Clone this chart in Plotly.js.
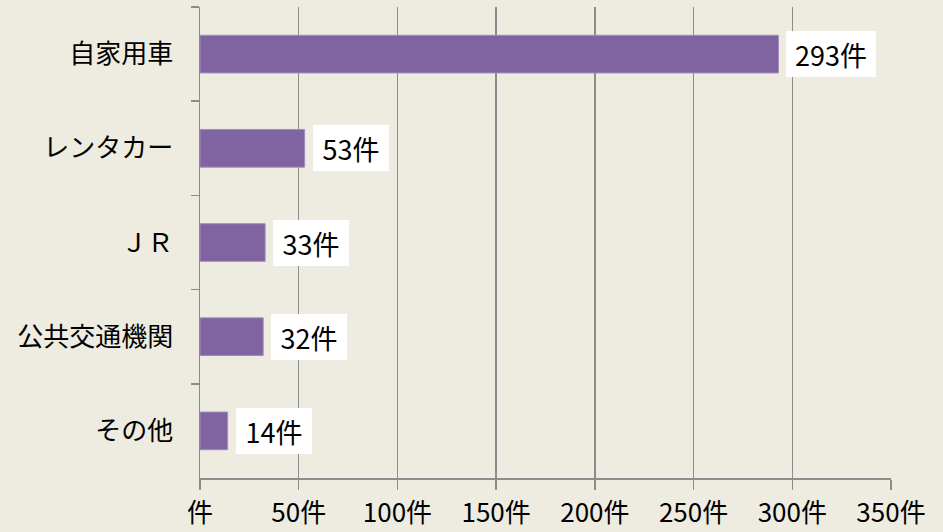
<!DOCTYPE html>
<html>
<head>
<meta charset="utf-8">
<script src="https://cdn.plot.ly/plotly-3.0.1.min.js"></script>
<style>html,body{margin:0;padding:0;background:#EEECE1;}</style>
</head>
<body>
<div id="chart" style="width:943px;height:532px;"></div>
<script>
const categories = ["自家用車", "レンタカー", "ＪＲ", "公共交通機関", "その他"];
const values = [293, 53, 33, 32, 14];
const labelSuffix = "件";
const tickValues = [0, 50, 100, 150, 200, 250, 300, 350];
const tickLabels = ["件", "50件", "100件", "150件", "200件", "250件", "300件", "350件"];

const font = "'Noto Sans CJK JP', 'Noto Sans', sans-serif";

const trace = {
  type: "bar",
  orientation: "h",
  y: categories,
  x: values,
  marker: {color: "#8064A2", line: {color: "#A08CBE", width: 1}},
  hoverinfo: "none"
};

const annotations = categories.map((c, i) => {
  const txt = values[i] + labelSuffix;
  const nDigits = String(values[i]).length;
  return {
    x: values[i], y: c, xref: "x", yref: "y",
    text: txt,
    showarrow: false,
    xanchor: "left", yanchor: "middle",
    xshift: 8,
    width: 14 * nDigits + 48, height: 46,
    bgcolor: "#FFFFFF",
    borderpad: 0, borderwidth: 0,
    font: {family: font, size: 27, color: "#000000"}
  };
});

const layout = {
  width: 943, height: 532,
  margin: {l: 200, r: 52, t: 7, b: 54},
  paper_bgcolor: "#EEECE1",
  plot_bgcolor: "#EEECE1",
  showlegend: false,
  bargap: 0.6,
  xaxis: {
    range: [0, 350],
    tickvals: tickValues,
    ticktext: tickLabels,
    showgrid: true, gridcolor: "#8C8C8C", gridwidth: 1.5,
    zeroline: false,
    showline: true, linecolor: "#8C8C8C", linewidth: 1.5,
    ticks: "outside", ticklen: 10, tickcolor: "#8C8C8C", tickwidth: 1.5,
    ticklabelstandoff: 1,
    tickfont: {family: font, size: 26, color: "#000000"},
    fixedrange: true
  },
  yaxis: {
    type: "category",
    categoryorder: "array",
    categoryarray: categories,
    autorange: "reversed",
    showgrid: false,
    zeroline: false,
    showline: true, linecolor: "#8C8C8C", linewidth: 1.5,
    ticks: "outside", ticklen: 8, tickcolor: "#8C8C8C", tickwidth: 1.5,
    tickson: "boundaries",
    ticklabelstandoff: 20,
    tickfont: {family: font, size: 26, color: "#000000"},
    fixedrange: true
  },
  annotations: annotations
};

Plotly.newPlot("chart", [trace], layout, {displayModeBar: false, staticPlot: true});
</script>
</body>
</html>
